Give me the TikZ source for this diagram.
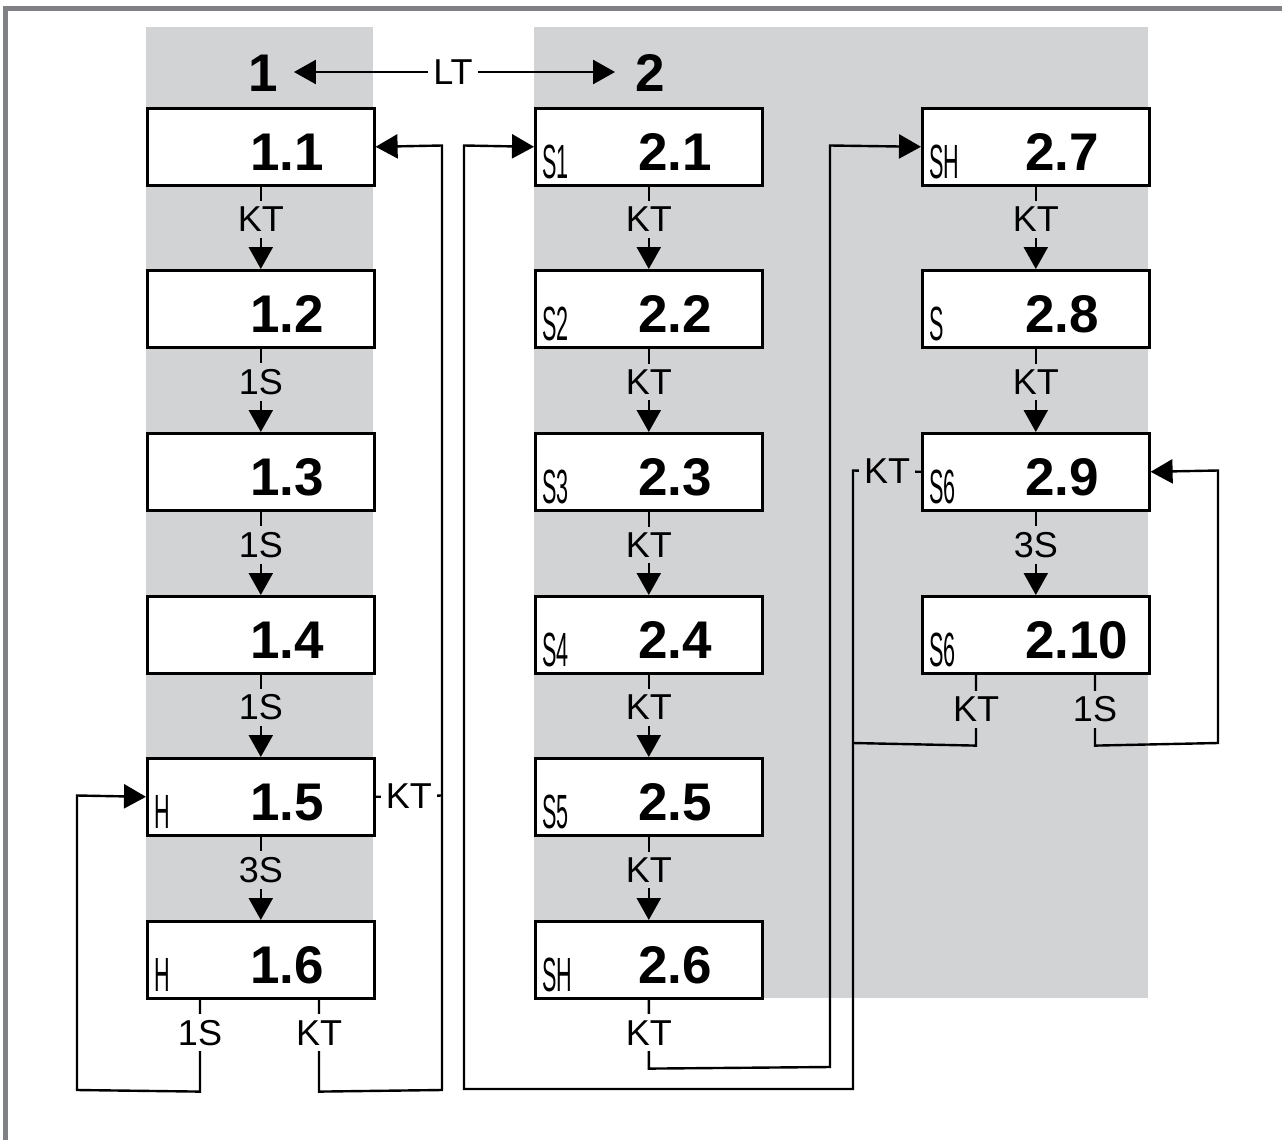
\documentclass[tikz,border=0pt]{standalone}
\usepackage{fontspec}
\usepackage{graphicx}
\setmainfont{Liberation Sans}
\usetikzlibrary{arrows.meta,calc}

\definecolor{panel}{RGB}{210,211,213}
\definecolor{framegray}{RGB}{128,129,133}

% display box: name, left x, top y, segment text, step number
\newcommand\dispbox[5]{%
  \node[dbox, anchor=north west] (#1) at (#2,#3) {};
  \node[num] (#1-n) at ($(#1.south west)+(104,-16)$) {#5};
  \node[seg] (#1-s) at ($(#1.south west)+(8,-8)$) {\scalebox{0.45}[1]{#4}};
}

\begin{document}
\begin{tikzpicture}[x=1pt,y=-1pt,
  dbox/.style={draw=black,line width=2.6pt,fill=white,minimum width=227pt,minimum height=77pt,inner sep=0pt},
  num/.style={font=\fontsize{53}{53}\selectfont\bfseries,inner sep=0pt,anchor=base west},
  seg/.style={font=\fontsize{48}{48}\selectfont,inner sep=0pt,anchor=base west},
  hdr/.style={font=\fontsize{53}{53}\selectfont\bfseries,inner sep=0pt,anchor=base},
  lbl/.style={font=\fontsize{36}{36}\selectfont,inner xsep=5pt,inner ysep=6pt,fill=panel},
  wlbl/.style={lbl,fill=white},
  conn/.style={line width=2.4pt},
  arr/.style={conn,-{Triangle[length=22pt,width=24pt]}},
]
\useasboundingbox (0,0) rectangle (1282,1140);

% shaded panels and frame
\fill[panel] (146,27) rectangle (373,998);
\fill[panel] (534,27) rectangle (1148,998);
\draw[framegray,line width=5pt] (5,1140) -- (5,8.5) -- (1282,8.5);

% headers
\node[hdr] (h1) at (263,92) {1};
\node[hdr] (h2) at (650,92) {2};
\node[wlbl] (lt) at (453,72) {LT};
\draw[arr,shorten >=16pt] (lt.west) -- (lt.west -| h1.east);
\draw[arr,shorten >=20pt] (lt.east) -- (lt.east -| h2.west);

% column 1
\dispbox{b11}{146}{107}{}{1.1}
\dispbox{b12}{146}{269}{}{1.2}
\dispbox{b13}{146}{432}{}{1.3}
\dispbox{b14}{146}{595}{}{1.4}
\dispbox{b15}{146}{757}{H}{1.5}
\dispbox{b16}{146}{920}{H}{1.6}

% column 2
\dispbox{b21}{534}{107}{S1}{2.1}
\dispbox{b22}{534}{269}{S2}{2.2}
\dispbox{b23}{534}{432}{S3}{2.3}
\dispbox{b24}{534}{595}{S4}{2.4}
\dispbox{b25}{534}{757}{S5}{2.5}
\dispbox{b26}{534}{920}{SH}{2.6}

% column 3
\dispbox{b27}{921}{107}{SH}{2.7}
\dispbox{b28}{921}{269}{S}{2.8}
\dispbox{b29}{921}{432}{S6}{2.9}
\dispbox{b210}{921}{595}{S6}{2.10}

% straight steps
\draw[arr] (b11.south) -- node[lbl,pos=0.4]{KT} (b12.north);
\draw[arr] (b12.south) -- node[lbl,pos=0.4]{1S} (b13.north);
\draw[arr] (b13.south) -- node[lbl,pos=0.4]{1S} (b14.north);
\draw[arr] (b14.south) -- node[lbl,pos=0.4]{1S} (b15.north);
\draw[arr] (b15.south) -- node[lbl,pos=0.4]{3S} (b16.north);

\draw[arr] (b21.south) -- node[lbl,pos=0.4]{KT} (b22.north);
\draw[arr] (b22.south) -- node[lbl,pos=0.4]{KT} (b23.north);
\draw[arr] (b23.south) -- node[lbl,pos=0.4]{KT} (b24.north);
\draw[arr] (b24.south) -- node[lbl,pos=0.4]{KT} (b25.north);
\draw[arr] (b25.south) -- node[lbl,pos=0.4]{KT} (b26.north);

\draw[arr] (b27.south) -- node[lbl,pos=0.4]{KT} (b28.north);
\draw[arr] (b28.south) -- node[lbl,pos=0.4]{KT} (b29.north);
\draw[arr] (b29.south) -- node[lbl,pos=0.4]{3S} (b210.north);

% loops of column 1
\draw[arr] ($(b16.south west)+(54,0)$) -- node[wlbl,pos=0.36]{1S} ($(b16.south west)+(54,92)$)
  -- (77,1090) -- (77,795.5) -- (b15.west);
\draw[arr] ($(b16.south west)+(173,0)$) -- node[wlbl,pos=0.36]{KT} ($(b16.south west)+(173,92)$)
  -- (442,1090) -- (442,145.5) -- (b11.east);
\draw[conn] (b15.east) -- node[wlbl]{KT} (442,795.5);

% from 2.6 to 2.7
\draw[arr] (b26.south) -- node[wlbl,pos=0.48]{KT} ($(b26.south)+(0,69)$)
  -- (830,1067) -- (830,145.5) -- (b27.west);

% back to 2.1
\draw[arr] (b29.west) -- node[lbl]{KT} (853,470.5) -- (853,1089) -- (464,1089) -- (464,145.5) -- (b21.west);
\draw[conn] ($(b210.south west)+(55,0)$) -- node[lbl,pos=0.49]{KT} ($(b210.south west)+(55,71)$) -- (853,743);

% 2.10 back to 2.9
\draw[arr] ($(b210.south west)+(174,0)$) -- node[lbl,pos=0.49]{1S} ($(b210.south west)+(174,71)$)
  -- (1218,743) -- (1218,470.5) -- (b29.east);
\end{tikzpicture}
\end{document}
